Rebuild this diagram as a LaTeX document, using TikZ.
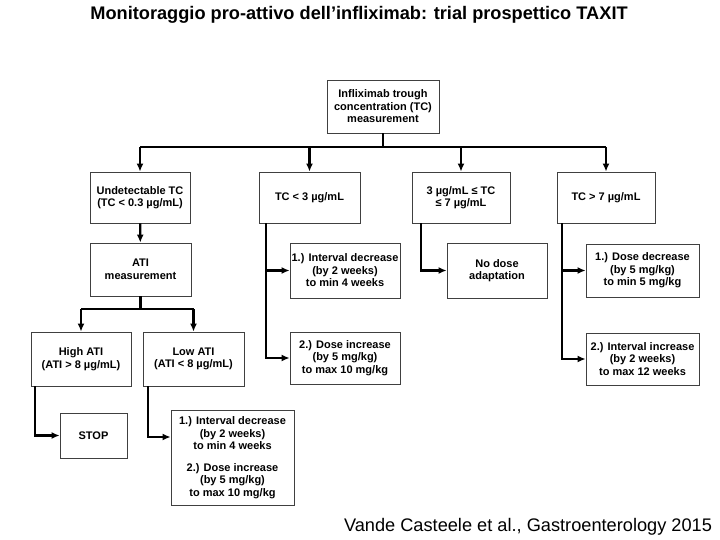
\documentclass[tikz,border=0pt]{standalone}
\usepackage{fontspec}
\setmainfont{Liberation Sans}
\usetikzlibrary{arrows.meta}
\tikzstyle{box} = [rectangle, draw=black!75, line width=0.8pt, fill=white, align=center, inner sep=0pt, font=\bfseries\fontsize{11}{12.5}\selectfont]

\begin{document}
\begin{tikzpicture}[x=1pt,y=-1pt,->,>={Latex[length=8pt,width=7pt]},line width=2.2pt]
  \useasboundingbox (0,0) rectangle (720,540);
  \node[font=\bfseries\fontsize{18.2}{21}\selectfont] (title) at (359,15) {Monitoraggio pro-attivo dell’infliximab: trial prospettico TAXIT};

  \node[box, minimum width=112pt, minimum height=53pt] (tc) at (383,106.5) {Infliximab trough\\concentration (TC)\\measurement};
  \node[box, minimum width=100pt, minimum height=51pt] (undet) at (140,197.5) {Undetectable TC\\(TC < 0.3 µg/mL)};
  \node[box, minimum width=101pt, minimum height=51pt] (ltc) at (309.5,197.5) {TC < 3 µg/mL};
  \node[box, minimum width=98pt, minimum height=51pt] (mtc) at (461,197.5) {3 µg/mL ≤ TC\\≤ 7 µg/mL};
  \node[box, minimum width=98pt, minimum height=51pt] (htc) at (606,197.5) {TC > 7 µg/mL};

  \node[box, minimum width=101pt, minimum height=53pt] (ati) at (140.5,269.5) {ATI\\measurement};
  \node[box, minimum width=110pt, minimum height=55pt] (intdec) at (345,270.5) {1.) Interval decrease\\(by 2 weeks)\\to min 4 weeks};
  \node[box, minimum width=110pt, minimum height=52pt] (doseinc) at (345,358) {2.) Dose increase\\(by 5 mg/kg)\\to max 10 mg/kg};
  \node[box, minimum width=100pt, minimum height=55pt] (nodose) at (497,270.5) {No dose\\adaptation};
  \node[box, minimum width=113pt, minimum height=53pt] (dosedec) at (642.5,270.5) {1.) Dose decrease\\(by 5 mg/kg)\\to min 5 mg/kg};
  \node[box, minimum width=113pt, minimum height=52pt] (intinc) at (642.5,359) {2.) Interval increase\\(by 2 weeks)\\to max 12 weeks};

  \node[box, minimum width=100pt, minimum height=54pt] (hati) at (81,359) {High ATI\\(ATI > 8 µg/mL)};
  \node[box, minimum width=101pt, minimum height=54pt] (lati) at (193.5,359) {Low ATI\\(ATI < 8 µg/mL)};
  \node[box, minimum width=67pt, minimum height=45pt] (stop) at (93.5,435.5) {STOP};
  \node[box, minimum width=123pt, minimum height=95pt] (ladder) at (232.5,457.5) {1.) Interval decrease\\(by 2 weeks)\\to min 4 weeks\\[9pt]2.) Dose increase\\(by 5 mg/kg)\\to max 10 mg/kg};

  \node[font=\fontsize{18.2}{21}\selectfont] (source) at (528,527) {Vande Casteele et al., Gastroenterology 2015};

  % split of the trough level
  \coordinate (bus) at (383,147);
  \draw[-] (tc) -- (bus);
  \draw[-] (bus -| undet) -- (bus -| htc);
  \foreach \n in {undet,ltc,mtc,htc}
    \draw (bus -| \n) -- (\n);

  % undetectable branch
  \draw (undet) -- (ati);
  \coordinate (atibus) at (140.5,309);
  \draw[-] (ati) -- (atibus);
  \draw[-] (atibus -| hati) -- (atibus -| lati);
  \draw (atibus -| hati) -- (hati);
  \draw (atibus -| lati) -- (lati);
  \draw ([xshift=4pt]hati.south west) |- (stop);
  \draw ([xshift=5pt]lati.south west) |- ([yshift=20.5pt]ladder.west);

  % side branches
  \draw ([xshift=7pt]ltc.south west) |- (intdec);
  \draw ([xshift=7pt]ltc.south west) |- (doseinc);
  \draw ([xshift=9pt]mtc.south west) |- (nodose);
  \draw ([xshift=5pt]htc.south west) |- (dosedec);
  \draw ([xshift=5pt]htc.south west) |- (intinc);
\end{tikzpicture}
\end{document}
